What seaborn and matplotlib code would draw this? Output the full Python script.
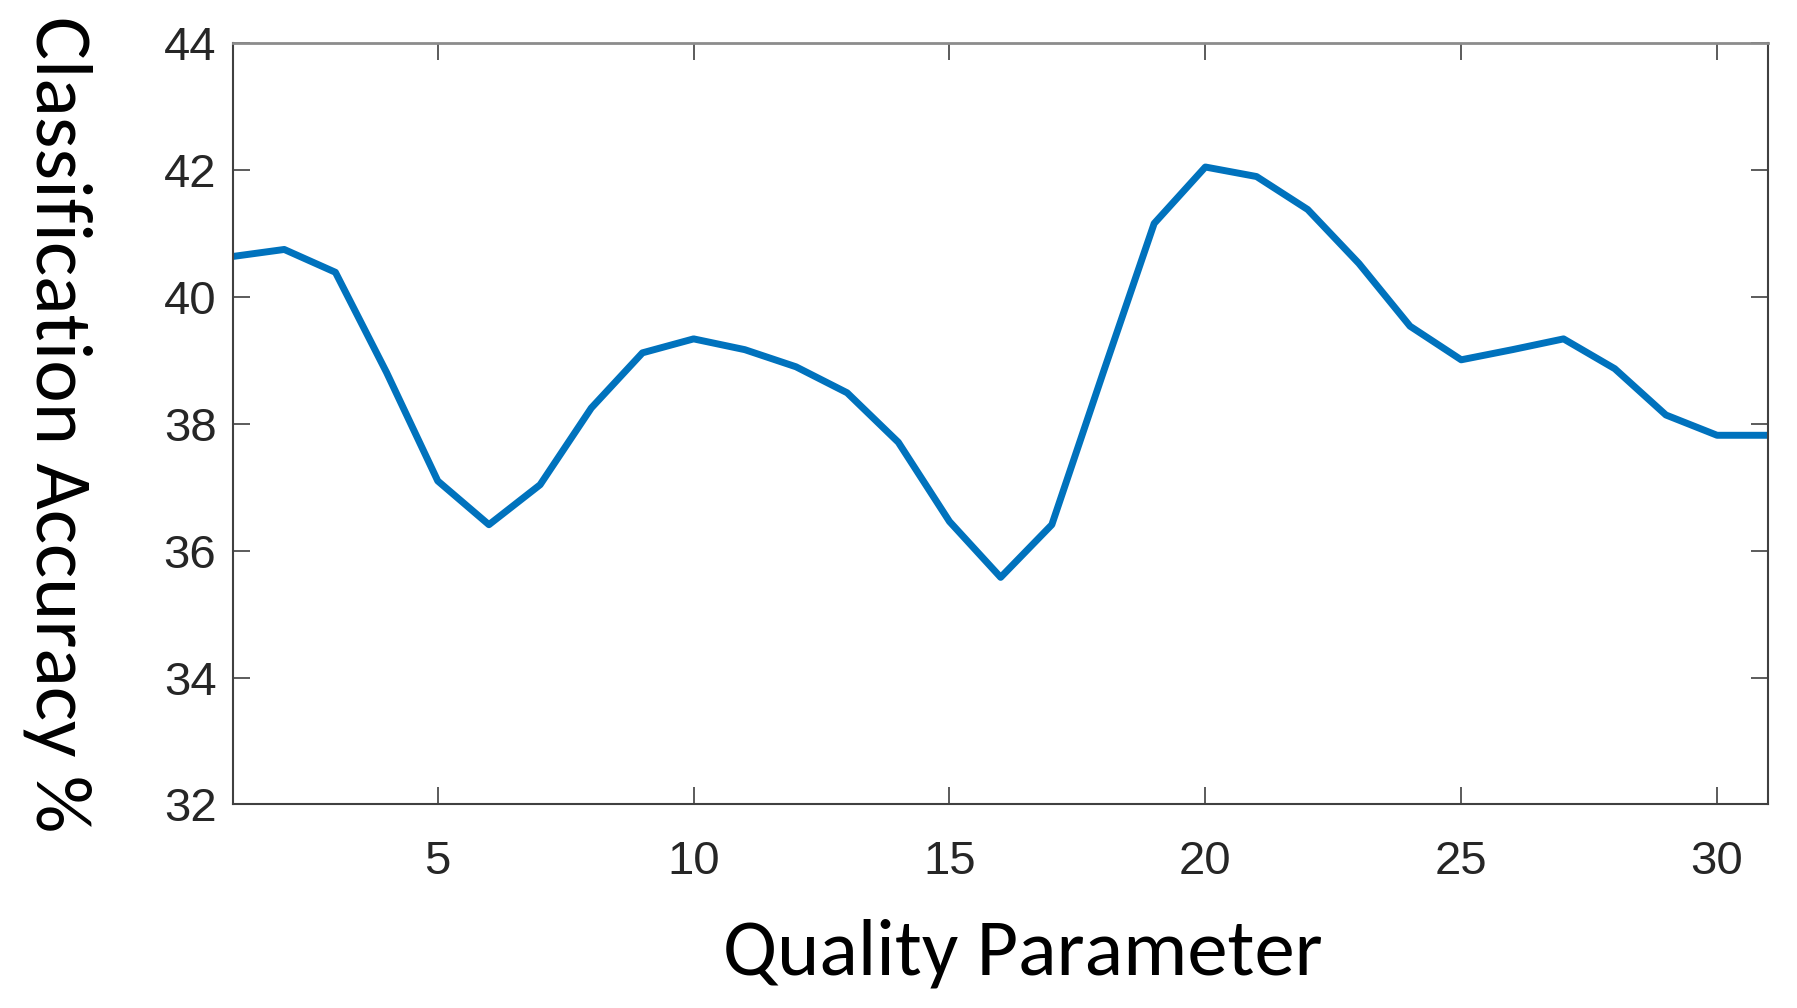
import numpy as np
import pandas as pd
import seaborn as sns
import matplotlib.pyplot as plt

# valores
quality = list(range(1, 32))
accuracy = [40.64, 40.75, 40.39, 38.81, 37.10, 36.41, 37.04, 38.25, 39.12, 39.34,
            39.17, 38.90, 38.49, 37.71, 36.46, 35.58, 36.41, 38.80, 41.16, 42.05,
            41.90, 41.38, 40.53, 39.54, 39.01, 39.17, 39.34, 38.87, 38.14, 37.82,
            37.82]
yticks = [32, 34, 36, 38, 40, 42, 44]
xticks = [5, 10, 15, 20, 25, 30]

df = pd.DataFrame({'Quality': quality, 'Accuracy': accuracy})

sns.set_style('ticks')
plt.rcParams['font.family'] = ['Liberation Sans', 'DejaVu Sans']

fig = plt.figure(figsize=(17.97, 10.08), dpi=100)
ax = fig.add_axes([0.1297, 0.202, 0.8543, 0.755])

# curva principal
sns.lineplot(data=df, x='Quality', y='Accuracy', ax=ax, color='#0072BD', linewidth=5.0)

ax.set_xlim(1, 31)
ax.set_ylim(32, 44)
ax.set_xticks(xticks)
ax.set_yticks(yticks)

for s in ax.spines.values():
    s.set_visible(True)
    s.set_color('#404040')
    s.set_linewidth(1.5)
ax.spines['top'].set_color('#8c8c8c')
ax.spines['top'].set_linewidth(2)

ax.tick_params(direction='in', length=12, width=1.2, color='#404040',
               top=True, right=True, labelsize=34, labelcolor='#262626')
ax.tick_params(axis='x', pad=26)
ax.tick_params(axis='y', pad=12)

ax.set_xlabel('Quality Parameter', fontsize=58, family=['Carlito', 'DejaVu Sans'],
              va='center', color='black')
ax.xaxis.set_label_coords(0.5147, -0.195)
ax.set_ylabel('Classification Accuracy %', fontsize=58, family=['Carlito', 'DejaVu Sans'],
              rotation=-90, va='center', ha='center', color='black')
ax.yaxis.set_label_coords(-0.114, 0.5)

fig.savefig('out.png', dpi=100)
